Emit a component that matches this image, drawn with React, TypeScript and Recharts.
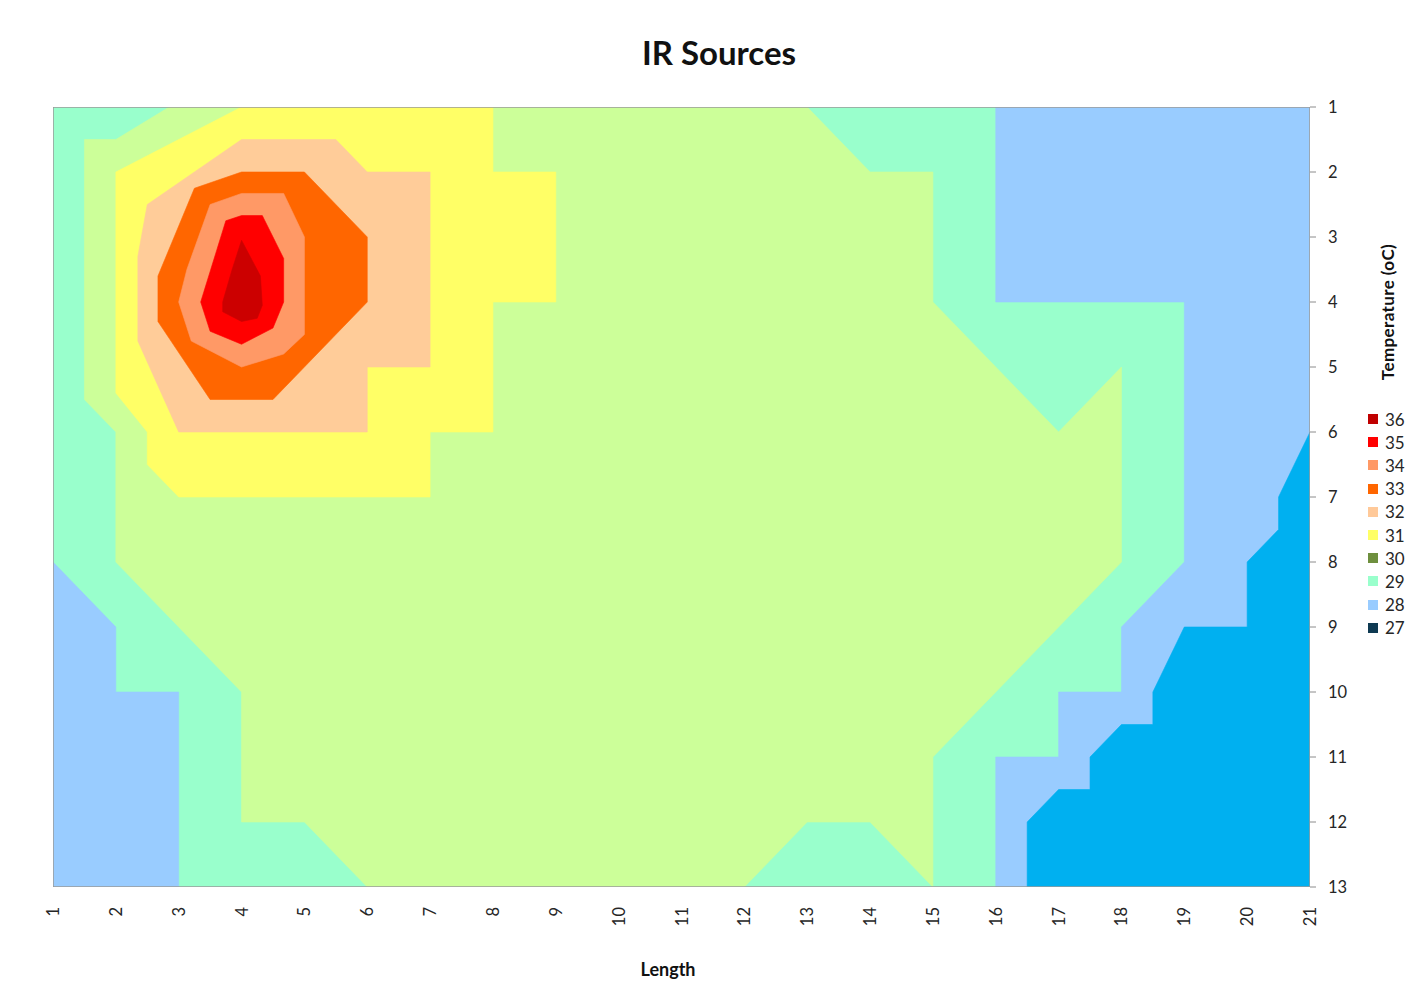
import { Scatter, ScatterChart, XAxis, YAxis } from "recharts";

type Pt = { x: number; y: number };

const LENGTH_TICKS = [1, 2, 3, 4, 5, 6, 7, 8, 9, 10, 11, 12, 13, 14, 15, 16, 17, 18, 19, 20, 21];
const ROW_TICKS = [1, 2, 3, 4, 5, 6, 7, 8, 9, 10, 11, 12, 13];

// contour bands, vertices in grid units (length, row)
const BAND_29_BASE: Pt[] = [
  { x: 1, y: 1 }, { x: 21, y: 1 }, { x: 21, y: 13 }, { x: 1, y: 13 },
];
const BAND_30: Pt[] = [
  { x: 2.85, y: 1 }, { x: 13, y: 1 }, { x: 14, y: 2 }, { x: 15, y: 2 }, { x: 15, y: 4 },
  { x: 17, y: 6 }, { x: 18, y: 5 }, { x: 18, y: 8 }, { x: 15, y: 11 }, { x: 15, y: 13 },
  { x: 14, y: 12 }, { x: 13, y: 12 }, { x: 12, y: 13 }, { x: 6, y: 13 }, { x: 5, y: 12 },
  { x: 4, y: 12 }, { x: 4, y: 10 }, { x: 2, y: 8 }, { x: 2, y: 6 }, { x: 1.5, y: 5.5 },
  { x: 1.5, y: 1.5 }, { x: 2, y: 1.5 },
];
const BAND_31: Pt[] = [
  { x: 4, y: 1 }, { x: 8, y: 1 }, { x: 8, y: 2 }, { x: 9, y: 2 }, { x: 9, y: 4 },
  { x: 8, y: 4 }, { x: 8, y: 6 }, { x: 7, y: 6 }, { x: 7, y: 7 }, { x: 3, y: 7 },
  { x: 2.5, y: 6.5 }, { x: 2.5, y: 6 }, { x: 2, y: 5.4 }, { x: 2, y: 2 },
];
const BAND_32: Pt[] = [
  { x: 4, y: 1.5 }, { x: 5.5, y: 1.5 }, { x: 6, y: 2 }, { x: 7, y: 2 }, { x: 7, y: 5 },
  { x: 6, y: 5 }, { x: 6, y: 6 }, { x: 3, y: 6 }, { x: 2.35, y: 4.6 }, { x: 2.35, y: 3.3 },
  { x: 2.5, y: 2.5 },
];
const BAND_33: Pt[] = [
  { x: 3.25, y: 2.25 }, { x: 4, y: 2 }, { x: 5, y: 2 }, { x: 6, y: 3 }, { x: 6, y: 4 },
  { x: 4.5, y: 5.5 }, { x: 3.5, y: 5.5 }, { x: 2.67, y: 4.3 }, { x: 2.67, y: 3.6 },
];
const BAND_34: Pt[] = [
  { x: 3.5, y: 2.5 }, { x: 4, y: 2.33 }, { x: 4.67, y: 2.33 }, { x: 5, y: 3 }, { x: 5, y: 4.5 },
  { x: 4.67, y: 4.8 }, { x: 4, y: 5 }, { x: 3.2, y: 4.6 }, { x: 3, y: 4 }, { x: 3.13, y: 3.5 },
];
const BAND_35: Pt[] = [
  { x: 3.75, y: 2.75 }, { x: 4, y: 2.67 }, { x: 4.33, y: 2.67 }, { x: 4.67, y: 3.33 },
  { x: 4.67, y: 4 }, { x: 4.5, y: 4.4 }, { x: 4, y: 4.65 }, { x: 3.5, y: 4.45 }, { x: 3.35, y: 4 },
];
const BAND_36: Pt[] = [
  { x: 4, y: 3.05 }, { x: 4.3, y: 3.6 }, { x: 4.33, y: 4.05 }, { x: 4.25, y: 4.25 },
  { x: 4, y: 4.3 }, { x: 3.7, y: 4.15 }, { x: 3.7, y: 4 }, { x: 3.85, y: 3.5 },
];
const BAND_28_LEFT: Pt[] = [
  { x: 1, y: 8 }, { x: 2, y: 9 }, { x: 2, y: 10 }, { x: 3, y: 10 }, { x: 3, y: 13 }, { x: 1, y: 13 },
];
const BAND_28_RIGHT: Pt[] = [
  { x: 16, y: 1 }, { x: 21, y: 1 }, { x: 21, y: 13 }, { x: 16, y: 13 }, { x: 16, y: 11 },
  { x: 17, y: 11 }, { x: 17, y: 10 }, { x: 18, y: 10 }, { x: 18, y: 9 }, { x: 19, y: 8 },
  { x: 19, y: 4 }, { x: 16, y: 4 },
];
const BAND_27: Pt[] = [
  { x: 21, y: 6 }, { x: 21, y: 13 }, { x: 16.5, y: 13 }, { x: 16.5, y: 12 }, { x: 17, y: 11.5 },
  { x: 17.5, y: 11.5 }, { x: 17.5, y: 11 }, { x: 18, y: 10.5 }, { x: 18.5, y: 10.5 },
  { x: 18.5, y: 10 }, { x: 19, y: 9 }, { x: 20, y: 9 }, { x: 20, y: 8 }, { x: 20.5, y: 7.5 },
  { x: 20.5, y: 7 },
];

const LEGEND_LABELS = ["36", "35", "34", "33", "32", "31", "30", "29", "28", "27"];
const LEGEND_COLORS = [
  "#c00000", "#ff0000", "#ff9966", "#ff6600", "#ffc999",
  "#ffff66", "#6e8f3e", "#99ffcc", "#99ccff", "#0e3a52",
];

const LAYERS = [
  { id: "b29", pts: BAND_29_BASE, fill: "#99ffcc" },
  { id: "b30", pts: BAND_30, fill: "#ccff99" },
  { id: "b31", pts: BAND_31, fill: "#ffff66" },
  { id: "b32", pts: BAND_32, fill: "#ffcc99" },
  { id: "b33", pts: BAND_33, fill: "#ff6600" },
  { id: "b34", pts: BAND_34, fill: "#ff9966" },
  { id: "b35", pts: BAND_35, fill: "#ff0000" },
  { id: "b36", pts: BAND_36, fill: "#cc0000" },
  { id: "b28l", pts: BAND_28_LEFT, fill: "#99ccff" },
  { id: "b28r", pts: BAND_28_RIGHT, fill: "#99ccff" },
  { id: "b27", pts: BAND_27, fill: "#00b0f0" },
];

const FONT = "Lato, 'Open Sans', sans-serif";

const noDot = () => null;

function polygonLine(fill: string, stroke?: string) {
  return (p: any) => {
    const pts = (p.points || []).map((q: any) => `${q.x},${q.y}`).join(" ");
    return (
      <polygon
        points={pts}
        fill={stroke ? "none" : fill}
        stroke={stroke ?? fill}
        strokeWidth={stroke ? 1.5 : 0.6}
      />
    );
  };
}

function LengthTick({ x, y, payload }: any) {
  return (
    <text
      transform={`translate(${x},${y + 18}) rotate(-90)`}
      textAnchor="end"
      dominantBaseline="central"
      fontSize={16.5}
      fontFamily={FONT}
      fill="#262626"
    >
      {payload.value}
    </text>
  );
}

function RowTick({ x, y, payload }: any) {
  return (
    <text x={x} y={y} dy="0.36em" textAnchor="start" fontSize={16.5} fontFamily={FONT} fill="#262626">
      {payload.value}
    </text>
  );
}

export default function App() {
  return (
    <div
      style={{
        position: "fixed",
        left: 0,
        top: 0,
        width: 1406,
        height: 982,
        background: "#fff",
        overflow: "hidden",
        fontFamily: FONT,
      }}
    >
      <div
        style={{
          position: "absolute",
          left: 719,
          top: 33,
          transform: "translateX(-50%)",
          fontSize: 33,
          lineHeight: "38px",
          fontWeight: 700,
          color: "#111",
          whiteSpace: "nowrap",
        }}
      >
        IR Sources
      </div>

      <ScatterChart width={1406} height={982} margin={{ top: 107, right: 40, bottom: 0, left: 53 }}>
        <XAxis
          type="number"
          dataKey="x"
          domain={[1, 21]}
          ticks={LENGTH_TICKS}
          interval={0}
          allowDataOverflow
          height={95}
          tickLine={false}
          tickSize={0}
          axisLine={false}
          tick={<LengthTick />}
        />
        <YAxis
          type="number"
          dataKey="y"
          domain={[1, 13]}
          ticks={ROW_TICKS}
          interval={0}
          reversed
          allowDataOverflow
          orientation="right"
          width={56}
          tickSize={6}
          tickMargin={12}
          tickLine={{ stroke: "#8c8c8c" }}
          axisLine={false}
          tick={<RowTick />}
        />
        {LAYERS.map((l) => (
          <Scatter
            key={l.id}
            data={l.pts}
            shape={noDot}
            line={polygonLine(l.fill)}
            lineType="joint"
            isAnimationActive={false}
          />
        ))}
        <Scatter
          key="frame"
          data={BAND_29_BASE}
          shape={noDot}
          line={polygonLine("none", "#9a9a9a")}
          lineType="joint"
          isAnimationActive={false}
        />
      </ScatterChart>

      <div
        style={{
          position: "absolute",
          left: 1387,
          top: 312,
          transform: "translate(-50%, -50%) rotate(-90deg)",
          fontSize: 17,
          fontWeight: 700,
          color: "#111",
          whiteSpace: "nowrap",
          letterSpacing: 0.4,
        }}
      >
        Temperature (oC)
      </div>

      {LEGEND_LABELS.map((lab, i) => (
        <div
          key={lab}
          style={{
            position: "absolute",
            left: 1368,
            top: 419 + i * 23.2 - 10,
            height: 20,
            display: "flex",
            alignItems: "center",
            fontSize: 17,
            color: "#262626",
            whiteSpace: "nowrap",
          }}
        >
          <span style={{ display: "inline-block", width: 10, height: 10, background: LEGEND_COLORS[i], marginRight: 7 }} />
          {lab}
        </div>
      ))}

      <div
        style={{
          position: "absolute",
          left: 668,
          top: 958,
          transform: "translateX(-50%)",
          fontSize: 18,
          lineHeight: "22px",
          fontWeight: 700,
          color: "#111",
        }}
      >
        Length
      </div>
    </div>
  );
}
